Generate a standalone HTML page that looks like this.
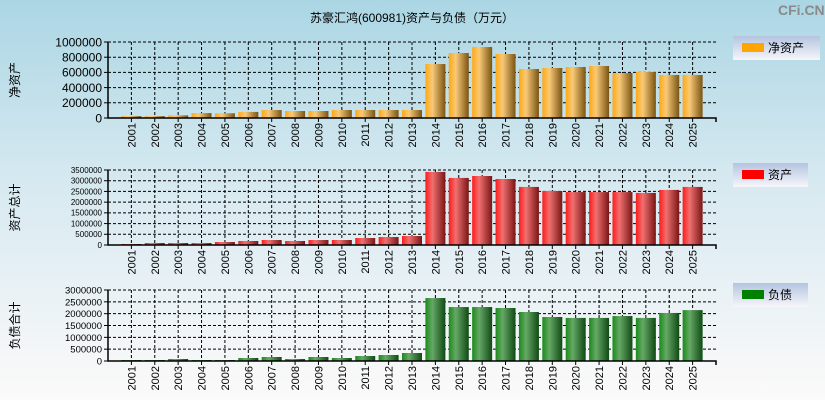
<!DOCTYPE html>
<html><head><meta charset="utf-8">
<style>
html,body{margin:0;padding:0}
body{width:825px;height:400px;overflow:hidden;background:linear-gradient(#abd6e4,#d6e9f0 45%,#fcfafa);font-family:"Liberation Sans","Noto Sans CJK SC",sans-serif}
svg{position:absolute;left:0;top:0}
</style></head>
<body>
<svg id="c" width="825" height="400" xmlns="http://www.w3.org/2000/svg">
<defs>
<linearGradient id="gO" x1="0" x2="1"><stop offset="0" stop-color="#ffa812"/><stop offset="0.35" stop-color="#f8c978"/><stop offset="1" stop-color="#7a5412"/></linearGradient>
<linearGradient id="gR" x1="0" x2="1"><stop offset="0" stop-color="#ff1a1a"/><stop offset="0.35" stop-color="#f07070"/><stop offset="1" stop-color="#7a1515"/></linearGradient>
<linearGradient id="gG" x1="0" x2="1"><stop offset="0" stop-color="#1a8a1a"/><stop offset="0.35" stop-color="#66a866"/><stop offset="1" stop-color="#0f4a14"/></linearGradient>
<linearGradient id="gL" x1="0" y1="0" x2="0" y2="1"><stop offset="0" stop-color="#b4c4e0"/><stop offset="1" stop-color="#f6f6fa"/></linearGradient>
</defs>
<text x="412" y="22" font-size="12" text-anchor="middle">苏豪汇鸿(600981)资产与负债（万元）</text>
<text x="778" y="15" font-size="14" font-weight="bold" fill="#8a8a8a">CFi.CN</text>
</svg>
<script>
const years=["2001","2002","2003","2004","2005","2006","2007","2008","2009","2010","2011","2012","2013","2014","2015","2016","2017","2018","2019","2020","2021","2022","2023","2024","2025"];
const netAssets=[25000,25000,35000,65000,62000,80000,105000,92000,92000,105000,105000,105000,105000,710000,855000,934000,842000,645000,658000,671000,684000,592000,605000,566000,566000];
const totalAssets=[47000,93000,93000,93000,140000,187000,233000,187000,233000,233000,327000,373000,420000,3410000,3130000,3220000,3080000,2710000,2520000,2470000,2470000,2470000,2430000,2570000,2710000];
const liabilities=[42000,42000,85000,42000,42000,127000,169000,85000,169000,127000,211000,254000,338000,2660000,2280000,2280000,2240000,2070000,1860000,1820000,1820000,1900000,1820000,2030000,2150000];
const ticksTop=[0,200000,400000,600000,800000,1000000];
const ticksMid=[0,500000,1000000,1500000,2000000,2500000,3000000,3500000];
const ticksBot=[0,500000,1000000,1500000,2000000,2500000,3000000];

const NS="http://www.w3.org/2000/svg";
const svg=document.getElementById('c');
function mk(tag,attrs,parent){const e=document.createElementNS(NS,tag);for(const k in attrs)e.setAttribute(k,attrs[k]);(parent||svg).appendChild(e);return e;}
const X0=108,X1=716,slot=(X1-X0)/26;
function xc(i){return X0+slot*(i+1);}
function panel(key,values,ticks,y0,y1,grad,tickFont,ytitle,legName,legColor,legY,legW){
  const g=mk('g',{});
  
  
  const max=ticks[ticks.length-1];
  const yv=v=>y0-(v/max)*(y0-y1);
  // grid
  ticks.forEach(t=>{ if(t>0){const l=mk('line',{x1:X0,x2:X1,y1:yv(t),y2:yv(t),stroke:'#000','stroke-dasharray':'3,2','stroke-width':1},g);
    }});
  years.forEach((y,i)=>{const l=mk('line',{x1:xc(i),x2:xc(i),y1:y1,y2:y0,stroke:'#000','stroke-dasharray':'3,2','stroke-width':1},g);
    });
  // bars
  values.forEach((v,i)=>{const r=mk('rect',{x:xc(i)-10,y:yv(v),width:20,height:Math.max(0,y0-yv(v)),fill:'url(#'+grad+')'},g);
    });
  // axes
  const ax=mk('path',{d:`M${X0} ${y1}V${y0}H${X1}V${y0+4}`,stroke:'#000',fill:'none','stroke-width':1.5},g);
  
  ticks.forEach(t=>{mk('line',{x1:X0-4,x2:X0,y1:yv(t),y2:yv(t),stroke:'#000'},g);
    const tx=mk('text',{x:X0-6,y:yv(t)+tickFont*0.36,'font-size':tickFont,'text-anchor':'end'},g);tx.textContent=t;
    });
  years.forEach((y,i)=>{mk('line',{x1:xc(i),x2:xc(i),y1:y0,y2:y0+4,stroke:'#000'},g);
    const tx=mk('text',{x:0,y:0,'font-size':11,'text-anchor':'end',transform:`translate(${xc(i)+4},${y0+5}) rotate(-90)`},g);tx.textContent=y;
    });
  const yt=mk('text',{x:0,y:0,'font-size':12,'text-anchor':'middle',transform:`translate(19,${(y0+y1)/2}) rotate(-90)`},g);yt.textContent=ytitle;
  
  const lg=mk('g',{},g);
  
  mk('rect',{x:733,y:legY,width:legW,height:24,fill:'url(#gL)'},lg);
  mk('rect',{x:742,y:legY+7,width:22,height:9,fill:legColor},lg);
  const lt=mk('text',{x:768,y:legY+16,'font-size':12},lg);lt.textContent=legName;
}
panel('net-assets',netAssets,ticksTop,118,42,'gO',12,'净资产','净资产','#ffa500',36,87);
panel('total-assets',totalAssets,ticksMid,245,170,'gR',8,'资产总计','资产','#ff0000',163,75);
panel('liabilities',liabilities,ticksBot,361,290,'gG',9.5,'负债合计','负债','#008000',283,75);
</script>
</body></html>
